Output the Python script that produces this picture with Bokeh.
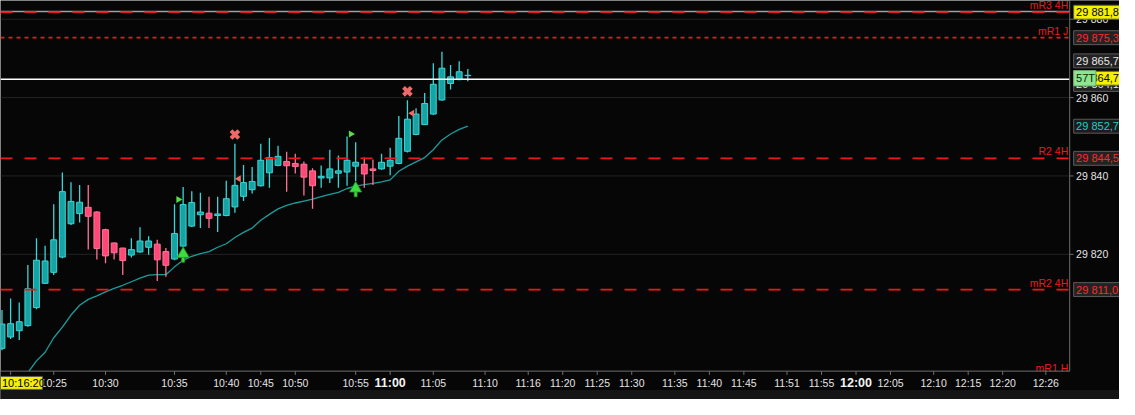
import numpy as np
from bokeh.plotting import figure
from bokeh.models import ColumnDataSource, Range1d
from bokeh.core.properties import value
from bokeh.embed import file_html
from bokeh.resources import INLINE

# ---------------- data ----------------
opens = [29796.0, 29798.9, 29800.5, 29801.8, 29806.4, 29812.6, 29815.4, 29819.3, 29827.8, 29830.4,
         29832.0, 29830.8, 29826.3, 29822.9, 29821.6, 29819.8, 29820.6, 29821.8, 29822.6, 29820.7,
         29818.8, 29822.1, 29827.2, 29830.1, 29830.5, 29829.9, 29829.9, 29832.1, 29834.8, 29836.5,
         29837.5, 29840.8, 29842.7, 29843.7, 29843.2, 29843.0, 29841.3, 29839.5, 29839.5, 29840.7,
         29841.0, 29842.5, 29843.0, 29841.8, 29841.8, 29842.5, 29843.2, 29846.3, 29850.6, 29853.1,
         29855.8, 29859.4, 29863.6, 29864.6, 29865.6]
highs = [29805.8, 29808.7, 29807.7, 29817.3, 29824.1, 29822.2, 29832.8, 29840.9, 29838.4, 29837.7,
         29837.7, 29831.0, 29826.5, 29823.0, 29821.7, 29824.1, 29826.9, 29824.6, 29823.7, 29821.6,
         29832.8, 29837.2, 29836.1, 29835.7, 29834.7, 29834.7, 29838.8, 29848.2, 29842.8, 29842.3,
         29848.2, 29849.7, 29847.7, 29846.2, 29845.7, 29843.7, 29842.0, 29842.7, 29846.7, 29845.2,
         29850.1, 29848.6, 29844.7, 29844.2, 29845.7, 29847.2, 29855.3, 29859.3, 29857.3, 29861.2,
         29868.8, 29871.7, 29868.3, 29869.3, 29867.3]
lows = [29795.5, 29798.4, 29798.1, 29801.5, 29806.0, 29812.4, 29814.7, 29819.0, 29827.5, 29828.1,
        29821.2, 29818.7, 29817.7, 29818.7, 29814.7, 29819.2, 29820.4, 29819.9, 29813.2, 29814.3,
        29818.5, 29822.0, 29827.0, 29826.7, 29826.7, 29825.7, 29829.7, 29830.6, 29833.6, 29835.5,
        29837.3, 29837.0, 29842.5, 29836.0, 29840.6, 29835.0, 29831.6, 29837.0, 29838.2, 29837.0,
        29837.5, 29838.7, 29837.0, 29837.7, 29841.6, 29840.2, 29843.0, 29846.0, 29850.4, 29853.0,
        29855.6, 29859.2, 29862.1, 29864.4, 29864.2]
closes = [29802.2, 29802.3, 29802.8, 29811.2, 29818.5, 29818.3, 29823.7, 29836.0, 29833.5, 29833.3,
          29829.7, 29821.5, 29819.6, 29820.4, 29818.4, 29821.2, 29823.4, 29823.4, 29818.6, 29817.2,
          29825.3, 29832.7, 29833.2, 29830.8, 29829.2, 29830.3, 29834.2, 29837.6, 29838.3, 29838.6,
          29844.0, 29844.7, 29845.0, 29842.6, 29842.4, 29839.7, 29837.5, 29839.9, 29841.8, 29841.3,
          29844.0, 29843.5, 29840.5, 29841.4, 29843.5, 29844.0, 29849.6, 29854.5, 29855.8, 29858.5,
          29863.4, 29867.5, 29865.3, 29866.6, 29865.7]

ma_start = 2
ma_vals = [29786.6, 29789.8, 29792.8, 29795.0, 29798.7, 29801.4, 29804.5, 29807.0, 29808.5, 29809.4,
           29810.4, 29811.3, 29812.1, 29813.0, 29813.9, 29814.7, 29814.8, 29814.8, 29816.8, 29818.5,
           29819.5, 29820.2, 29820.7, 29821.8, 29822.7, 29824.3, 29825.6, 29826.7, 29828.7, 29830.2,
           29831.6, 29832.5, 29833.1, 29833.6, 29834.1, 29834.7, 29835.3, 29835.8, 29836.8, 29837.4,
           29837.8, 29838.1, 29838.5, 29839.0, 29841.2, 29842.5, 29843.6, 29844.7, 29846.7, 29849.2,
           29850.7, 29851.9, 29852.7]

# signals
buy_idx = [21, 41]
buy_tip = [29821.0, 29837.7]
sell_idx = [27, 47]
sell_price = [29850.6, 29861.6]
left_tri_idx = [27.45, 47.55]
left_tri_price = [29839.3, 29856.0]
right_tri_idx = [20.45, 40.45]
right_tri_price = [29834.0, 29850.7]

# horizontal levels
level_names = ["mR3 4H", "mR1 J", "R2 4H", "mR2 4H", "mR1 H"]
level_prices = [29881.8, 29875.3, 29844.5, 29811.0, 29789.3]
level_dash = ["12 12", "4 4", "12 12", "12 12", "12 12"]
high_line = 29882.0
last_price = 29864.7

# axes
y_ticks = [29820, 29840, 29860, 29880]
y_tick_labels = ["29 820", "29 840", "29 860", "29 880"]
x_tick_idx = [1, 6, 12, 20, 26, 30, 34, 41, 45, 50, 56, 61, 65, 69, 73, 78, 82, 86, 91, 95, 99,
              103, 108, 112, 116, 121]
x_tick_labels = ["10:16:20", "10:25", "10:30", "10:35", "10:40", "10:45", "10:50", "10:55", "11:00",
                 "11:05", "11:10", "11:16", "11:20", "11:25", "11:30", "11:35", "11:40", "11:45",
                 "11:51", "11:55", "12:00", "12:05", "12:10", "12:15", "12:20", "12:26"]
bold_ticks = ["11:00", "12:00"]
cursor_time = "10:16:20"

# price tags on the right scale
tag_texts = ["29 864,1", "29 881,8", "29 875,3", "29 865,7", "29 864,7", "29 852,7", "29 844,5", "29 811,0"]
tag_values = [29864.1, 29881.8, 29875.3, 29865.7, 29864.7, 29852.7, 29844.5, 29811.0]
tick_counter = "57T"

# ---------------- styling / layout (reference pixels) ----------------
tag_text_col = ["#e8e8e8", "#000000", "#ff2a2a", "#e8e8e8", "#000000", "#22cccc", "#ff2a2a", "#ff2a2a"]
tag_fill = ["#232323", "#f4f000", "#232323", "#232323", "#f4f000", "#1c1c1c", "#232323", "#232323"]
tag_nudge_px = [-3, 0, 0, 15, 1, 0, 0, 0]

BG = "#060606"
FONT = "Liberation Sans"
BULL_FILL, BULL_LINE = "#16a3a3", "#3ad6d6"
BEAR_FILL, BEAR_LINE = "#ff4877", "#ff7396"
RED = "#ee1a1a"
AXIS = "#6e6e6e"
TXT = "#e4e4e4"

REF_W, REF_H = 1135, 415
PLOT_R, PLOT_B = 1084.5, 385.5
X0_PX, DX_PX = 1.5, 8.75
Y_REF, Y_REF_PX, PX_PER_PT = 29860.0, 101.0, 4.075


def X(px):
    return (px - X0_PX) / DX_PX


def Y(py):
    return Y_REF - (py - Y_REF_PX) / PX_PER_PT


def clip_bottom(xs, ys, ymin):
    ox, oy = [], []
    for k in range(len(xs)):
        if ys[k] >= ymin:
            if k > 0 and ys[k - 1] < ymin and not ox:
                t = (ymin - ys[k - 1]) / (ys[k] - ys[k - 1])
                ox.append(xs[k - 1] + t * (xs[k] - xs[k - 1]))
                oy.append(ymin)
            ox.append(xs[k])
            oy.append(ys[k])
    return ox, oy


n = len(opens)
idx = list(range(n))
bull = [c >= o for o, c in zip(opens, closes)]
src = ColumnDataSource(dict(
    x=idx, o=opens, h=highs, l=lows, c=closes,
    top=[max(o, c) for o, c in zip(opens, closes)],
    bot=[min(o, c) for o, c in zip(opens, closes)],
    fill=[BULL_FILL if b else BEAR_FILL for b in bull],
    line=[BULL_LINE if b else BEAR_LINE for b in bull],
))

p = figure(width=1119, height=399, output_backend="svg", toolbar_location=None,
           x_range=Range1d(X(0), X(REF_W)), y_range=Range1d(Y(REF_H), Y(0)),
           x_axis_location=None, y_axis_location=None,
           background_fill_color=BG, border_fill_color=BG,
           min_border=0, outline_line_color=None)
p.xgrid.visible = False
p.ygrid.visible = False

x_left, x_right = X(0), X(PLOT_R)
y_bottom = Y(PLOT_B)

# grid
p.segment([x_left] * len(y_ticks), y_ticks, [x_right] * len(y_ticks), y_ticks,
          line_color="#232323", line_width=1)

# moving average
ma_x, ma_y = clip_bottom(list(range(ma_start, ma_start + len(ma_vals))), ma_vals, y_bottom)
p.line(ma_x, ma_y, line_color="#1a9d9d", line_width=1.3)

# candles
p.segment("x", "h", "x", "l", source=src, line_color="line", line_width=1.3)
p.vbar("x", 0.68, "top", "bot", source=src, fill_color="fill", line_color="line", line_width=1)

# level lines
p.segment([x_left], [high_line], [x_right], [high_line], line_color="#a0a0a0", line_width=1.5)
for price, dash in zip(level_prices, level_dash):
    p.segment([x_left], [price], [x_right], [price], line_color=RED, line_width=1.8, line_dash=dash)
p.segment([x_left], [last_price], [x_right], [last_price], line_color="#ffffff", line_width=1.5)

# level names
p.text(x=[X(1083)] * len(level_names), y=level_prices, text=level_names, text_align="right",
       text_baseline="bottom", y_offset=-1, text_color=RED, text_font=value(FONT),
       text_font_size="10.5px")

# signals
p.scatter(right_tri_idx, right_tri_price, marker="triangle", angle=-np.pi / 2, size=7,
          fill_color="#55e040", line_color=None)
p.scatter(left_tri_idx, left_tri_price, marker="triangle", angle=np.pi / 2, size=7,
          fill_color="#f06a6a", line_color=None)
p.scatter(sell_idx, sell_price, marker="x", size=11, line_width=4, line_color="#ee6a6a")
stem_h, head_h = 1.6, 0.9
p.vbar(buy_idx, 0.33, [t - 1.4 for t in buy_tip], [t - 1.4 - stem_h for t in buy_tip],
       fill_color="#3edc3e", line_color="#2a9a2a", line_width=0.8)
p.scatter(buy_idx, [t - head_h for t in buy_tip], marker="triangle", size=12,
          fill_color="#3edc3e", line_color="#2a9a2a", line_width=0.8)

# masks for axis panels
p.quad(left=[X(0)], right=[X(REF_W)], top=[Y(PLOT_B)], bottom=[Y(REF_H)], fill_color=BG, line_color=None)
p.quad(left=[X(PLOT_R)], right=[X(REF_W)], top=[Y(0)], bottom=[Y(REF_H)], fill_color=BG, line_color=None)
p.quad(left=[X(0)], right=[X(REF_W)], top=[Y(405)], bottom=[Y(REF_H)], fill_color="#151515", line_color=None)

# axis lines
p.segment([x_right], [Y(0)], [x_right], [y_bottom], line_color=AXIS, line_width=1)
p.segment([x_left], [y_bottom], [x_right], [y_bottom], line_color=AXIS, line_width=1)

# y ticks + labels
p.segment([x_right] * len(y_ticks), y_ticks, [X(PLOT_R + 4)] * len(y_ticks), y_ticks,
          line_color=AXIS, line_width=1)
p.text(x=[X(1091)] * len(y_ticks), y=y_ticks, text=y_tick_labels, text_align="left",
       text_baseline="middle", text_color=TXT, text_font=value(FONT), text_font_size="10.5px")

# price tags
TAG_L, TAG_R, TAG_H = 1088.5, 1135, 14.5
tag_y = [v + nd / PX_PER_PT for v, nd in zip(tag_values, tag_nudge_px)]
half = TAG_H / 2 / PX_PER_PT
for ty, txt, tc, fc in zip(tag_y, tag_texts, tag_text_col, tag_fill):
    p.quad(left=[X(TAG_L)], right=[X(TAG_R)], top=[ty + half], bottom=[ty - half],
           fill_color=fc, line_color="#5a5a5a", line_width=1)
    p.text(x=[X(TAG_L + 2.5)], y=[ty], text=[txt], text_align="left", text_baseline="middle",
           text_color=tc, text_font=value(FONT), text_font_size="11px")
# tick counter box over the last-price tag
cy = last_price + 1 / PX_PER_PT
p.quad(left=[X(1088.5)], right=[X(1111)], top=[cy + 8 / PX_PER_PT], bottom=[cy - 8 / PX_PER_PT],
       fill_color="#8fe58f", line_color="#6aa86a", line_width=1)
p.text(x=[X(1091)], y=[cy], text=[tick_counter], text_align="left", text_baseline="middle",
       text_color="#0e1e0e", text_font=value(FONT), text_font_size="11px")

# x ticks + labels
p.segment(x_tick_idx, [y_bottom] * len(x_tick_idx), x_tick_idx, [Y(PLOT_B + 4)] * len(x_tick_idx),
          line_color=AXIS, line_width=1)
plain = [(t, s) for t, s in zip(x_tick_idx, x_tick_labels) if s not in bold_ticks and s != cursor_time]
bold = [(t, s) for t, s in zip(x_tick_idx, x_tick_labels) if s in bold_ticks]
y_lab = Y(397.5)
p.text(x=[t for t, _ in plain], y=[y_lab] * len(plain), text=[s for _, s in plain],
       text_align="center", text_baseline="middle", text_color=TXT, text_font=value(FONT),
       text_font_size="10.5px")
p.text(x=[t for t, _ in bold], y=[y_lab] * len(bold), text=[s for _, s in bold],
       text_align="center", text_baseline="middle", text_color="#f4f4f4", text_font=value(FONT),
       text_font_size="12.5px", text_font_style="bold")
p.quad(left=[X(0)], right=[X(42.5)], top=[Y(391)], bottom=[Y(404.5)], fill_color="#f4f000",
       line_color="#5a5a5a", line_width=1)
p.text(x=[X(1.5)], y=[Y(398)], text=[cursor_time], text_align="left", text_baseline="middle",
       text_color="#000000", text_font=value(FONT), text_font_size="11px")

open("out.html", "w").write(file_html(p, INLINE))
